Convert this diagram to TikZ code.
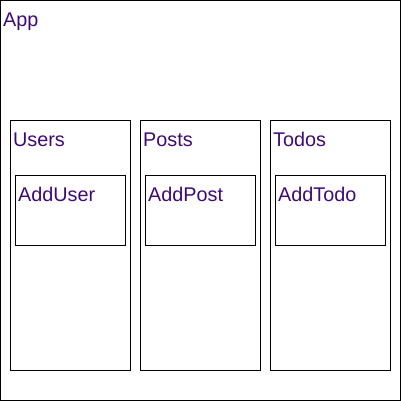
\documentclass[tikz,border=0pt]{standalone}
\usepackage{fontspec}
\setmainfont{Liberation Sans}
\definecolor{txt}{HTML}{3F0A75}
\begin{document}
\begin{tikzpicture}[x=1pt,y=-1pt,
  box/.style={draw=black,line width=1pt},
  lbl/.style={anchor=base west,inner sep=0pt,text=txt,font=\fontsize{19.8}{22}\selectfont}]
\useasboundingbox (0,0) rectangle (401,401);
\draw[box] (0.5,0.5) rectangle (400.5,400.5);
\node[lbl] (app) at (3,26.7) {App};
\foreach \x/\n/\c in {10/Users/AddUser,140/Posts/AddPost,270/Todos/AddTodo}{
  \draw[box] (\x+0.5,120.5) rectangle (\x+120.5,370.5);
  \node[lbl] (l\n) at (\x+3,146.7) {\n};
  \draw[box] (\x+5.5,175.5) rectangle (\x+115.5,245.5);
  \node[lbl] (l\c) at (\x+8,201.7) {\c};
}
\end{tikzpicture}
\end{document}
